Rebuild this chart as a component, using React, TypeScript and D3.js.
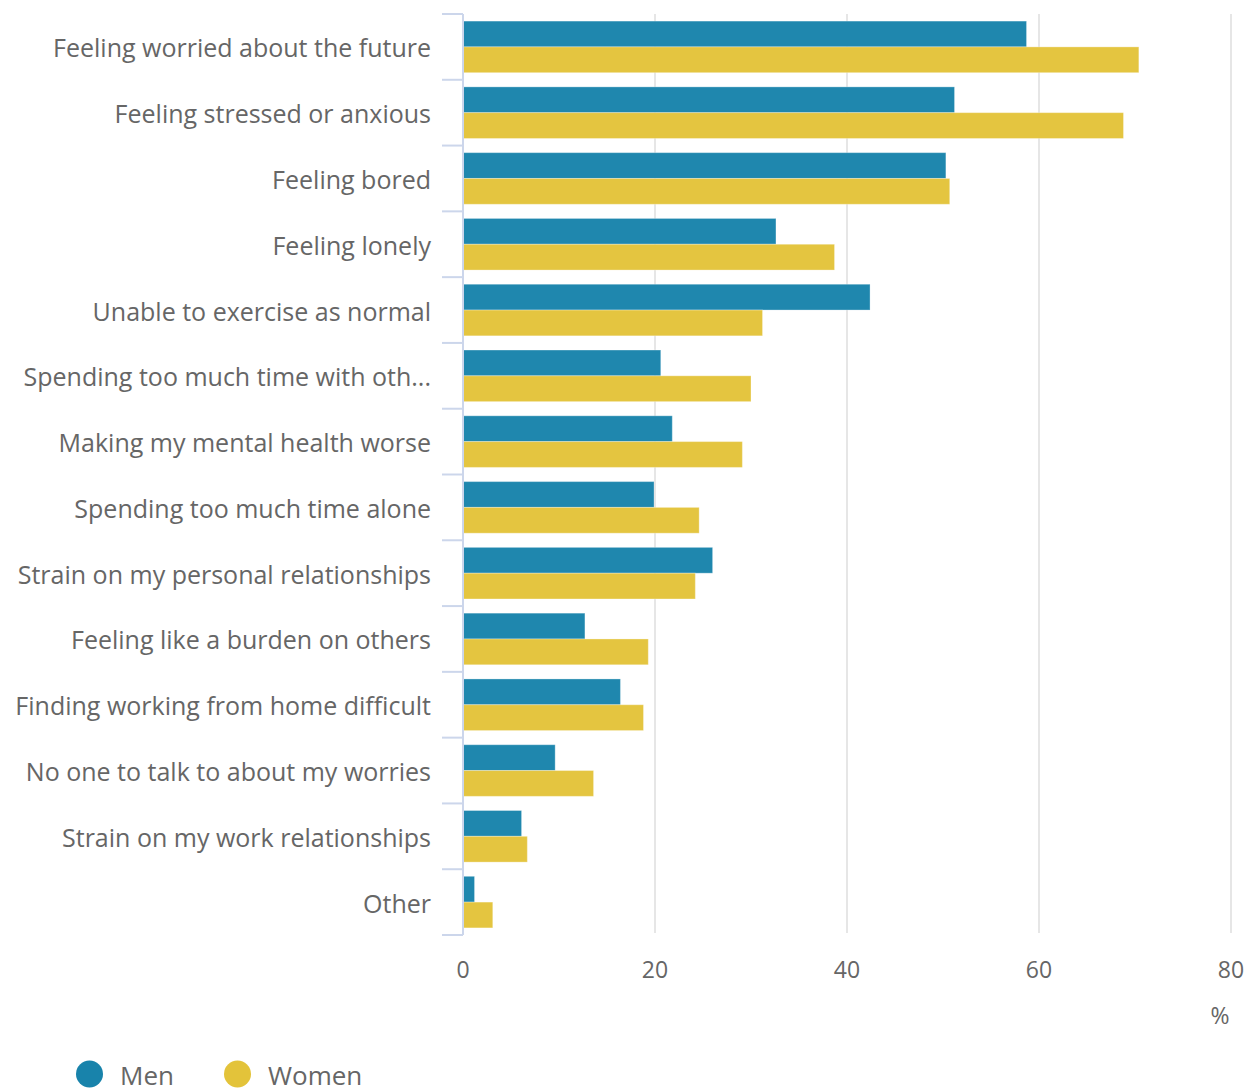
import React from "react";
import * as d3 from "d3";

const categories = [
  "Feeling worried about the future",
  "Feeling stressed or anxious",
  "Feeling bored",
  "Feeling lonely",
  "Unable to exercise as normal",
  "Spending too much time with oth...",
  "Making my mental health worse",
  "Spending too much time alone",
  "Strain on my personal relationships",
  "Feeling like a burden on others",
  "Finding working from home difficult",
  "No one to talk to about my worries",
  "Strain on my work relationships",
  "Other",
];
const men = [58.7, 51.2, 50.3, 32.6, 42.4, 20.6, 21.8, 19.9, 26.0, 12.7, 16.4, 9.6, 6.1, 1.2];
const women = [70.4, 68.8, 50.7, 38.7, 31.2, 30.0, 29.1, 24.6, 24.2, 19.3, 18.8, 13.6, 6.7, 3.1];
const xTicks = [0, 20, 40, 60, 80];
const seriesNames = ["Men", "Women"];
const seriesColors = ["#1883ab", "#e3c33a"];

const W = 1252;
const H = 1089;
const plotLeft = 463;
const plotRight = 1231;
const plotTop = 14;
const plotBottom = 935;
const FONT = "'Open Sans', sans-serif";
const TEXT = "#666666";

export default function App() {
  const x = d3.scaleLinear().domain([0, 80]).range([plotLeft, plotRight]);
  const y = d3.scaleBand<string>().domain(categories).range([plotTop, plotBottom]).paddingInner(0).paddingOuter(0);
  const inner = d3.scaleBand<string>().domain(seriesNames).range([0, y.bandwidth()]).paddingInner(0).paddingOuter(0.275);
  const data = [men, women];

  return (
    <div style={{ position: "absolute", left: 0, top: 0 }}>
      <svg width={W} height={H} style={{ display: "block", fontFamily: FONT }}>
        <rect width={W} height={H} fill="#ffffff" />
        {xTicks.slice(1).map((t) => (
          <line key={t} x1={x(t)} x2={x(t)} y1={plotTop} y2={plotBottom - 2} stroke="#e6e6e6" strokeWidth={2} />
        ))}
        {data.map((vals, si) =>
          categories.map((c, i) => (
            <rect
              key={si + "-" + c}
              x={x(0)}
              y={(y(c) as number) + (inner(seriesNames[si]) as number)}
              width={x(vals[i]) - x(0)}
              height={inner.bandwidth()}
              fill={seriesColors[si]}
              fillOpacity={0.97}
              stroke="#ffffff"
              strokeOpacity={0.3}
              strokeWidth={1}
            />
          ))
        )}
        <line x1={plotLeft} x2={plotLeft} y1={plotTop} y2={plotBottom} stroke="#ccd6eb" strokeWidth={2} />
        {d3.range(categories.length + 1).map((i) => {
          const yy = plotTop + i * y.step();
          return <line key={i} x1={442} x2={plotLeft} y1={yy} y2={yy} stroke="#ccd6eb" strokeWidth={2} />;
        })}
        {categories.map((c) => (
          <text
            key={c}
            x={431}
            y={(y(c) as number) + y.bandwidth() / 2 + 10.5}
            textAnchor="end"
            fontSize={25}
            fill={TEXT}
          >
            {c}
          </text>
        ))}
        {xTicks.map((t) => (
          <text key={t} x={x(t)} y={978} textAnchor="middle" fontSize={23} fill={TEXT}>
            {t}
          </text>
        ))}
        <text x={1220} y={1024} textAnchor="middle" fontSize={23} fill={TEXT}>
          %
        </text>
        {seriesNames.map((s, i) => {
          const lx = 89.5 + i * 148;
          return (
            <g key={s}>
              <circle cx={lx} cy={1074} r={13.5} fill={seriesColors[i]} />
              <text x={lx + 30.5} y={1085} fontSize={26} fill={TEXT}>
                {s}
              </text>
            </g>
          );
        })}
      </svg>
    </div>
  );
}
